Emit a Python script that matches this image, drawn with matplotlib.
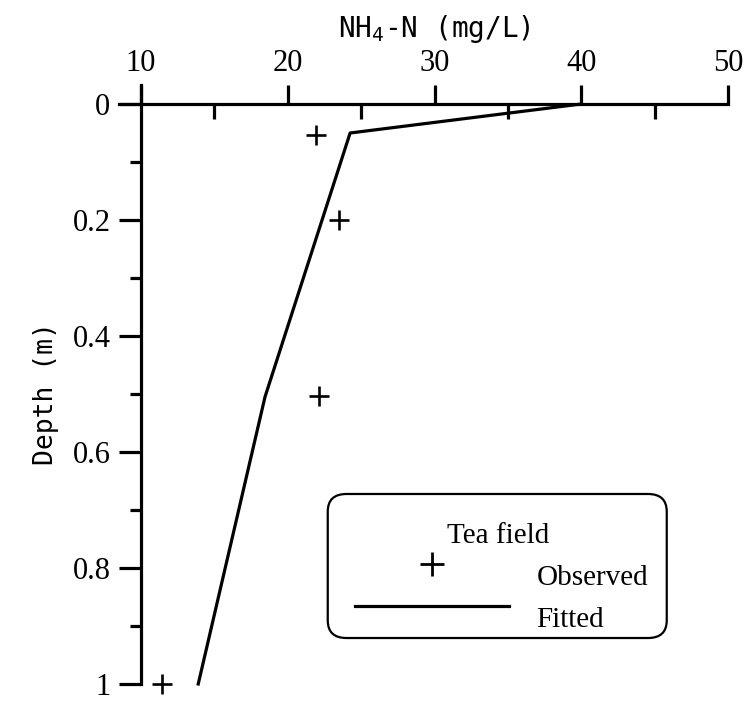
import matplotlib.pyplot as plt
from matplotlib.patches import FancyBboxPatch
from matplotlib.lines import Line2D

plt.rcParams["mathtext.default"] = "regular"

# fitted profile (NH4-N in mg/L vs depth in m)
fit_conc = [40.0, 24.25, 18.45, 13.9]
fit_depth = [0.0, 0.05, 0.505, 1.0]

# observed values, tea field
obs_conc = [21.9, 23.5, 22.1, 11.4]
obs_depth = [0.053, 0.2, 0.503, 1.0]

x_ticks = [10, 20, 30, 40, 50]
x_minor = [15, 25, 35, 45]
y_ticks = [0, 0.2, 0.4, 0.6, 0.8, 1.0]
y_ticklabels = ["0", "0.2", "0.4", "0.6", "0.8", "1"]
y_minor = [0.1, 0.3, 0.5, 0.7, 0.9]

serif = ["Liberation Serif", "DejaVu Serif"]
mono = ["DejaVu Sans Mono", "DejaVu Sans"]

fig = plt.figure(figsize=(7.5, 7.06), dpi=100)
ax = fig.add_axes([0.188, 0.0312, 0.7827, 0.8215])

ax.plot(fit_conc, fit_depth, color="black", lw=2.3, clip_on=False)
ax.plot(obs_conc, obs_depth, ls="none", marker="+", ms=14, mew=1.9, color="black",
        clip_on=False)

ax.set_xlim(10, 50)
ax.set_ylim(1.0, 0.0)

for side in ["right", "bottom"]:
    ax.spines[side].set_visible(False)
for side in ["top", "left"]:
    ax.spines[side].set_linewidth(2.3)
# axes lines poke out a little past the origin, as in the original
ax.spines["left"].set_bounds(1.0, -0.033)
ax.spines["top"].set_bounds(8.5, 50)

ax.xaxis.set_ticks_position("top")
ax.xaxis.set_label_position("top")
ax.set_xticks(x_ticks)
ax.set_xticks(x_minor, minor=True)
ax.tick_params(axis="x", which="major", direction="out", length=14, width=2.3, pad=5,
               labelsize=22)
ax.tick_params(axis="x", which="minor", direction="in", length=11, width=2.3)

ax.set_yticks(y_ticks)
ax.set_yticklabels(y_ticklabels)
ax.set_yticks(y_minor, minor=True)
ax.tick_params(axis="y", which="major", direction="out", length=16, width=2.3, pad=6,
               labelsize=22)
ax.tick_params(axis="y", which="minor", direction="out", length=8, width=2.3)

for lab in ax.get_xticklabels() + ax.get_yticklabels():
    lab.set_family(serif)

ax.set_xlabel("NH$_4$-N (mg/L)", fontsize=20, family=mono, labelpad=8)
ax.set_ylabel("Depth (m)", fontsize=19, family=mono, labelpad=10)

# legend box, laid out by hand like the original
box = FancyBboxPatch((0.437, 0.0963), 0.452, 0.204, transform=fig.transFigure,
                     boxstyle="round,pad=0,rounding_size=0.025", fill=False,
                     lw=1.6, ec="black")
fig.patches.append(box)
fig.text(0.596, 1 - 536 / 706, "Tea field", family=serif, fontsize=21,
         ha="left", va="center")
fig.text(0.715, 1 - 578 / 706, "Observed", family=serif, fontsize=21,
         ha="left", va="center")
fig.text(0.715, 1 - 620 / 706, "Fitted", family=serif, fontsize=21,
         ha="left", va="center")
fig.add_artist(Line2D([0.576], [1 - 564 / 706], transform=fig.transFigure,
                      marker="+", ms=17, mew=2.0, color="black"))
fig.add_artist(Line2D([0.473, 0.679], [1 - 606 / 706, 1 - 606 / 706],
                      transform=fig.transFigure, lw=2.3, color="black"))

fig.savefig("out.png", dpi=100)
